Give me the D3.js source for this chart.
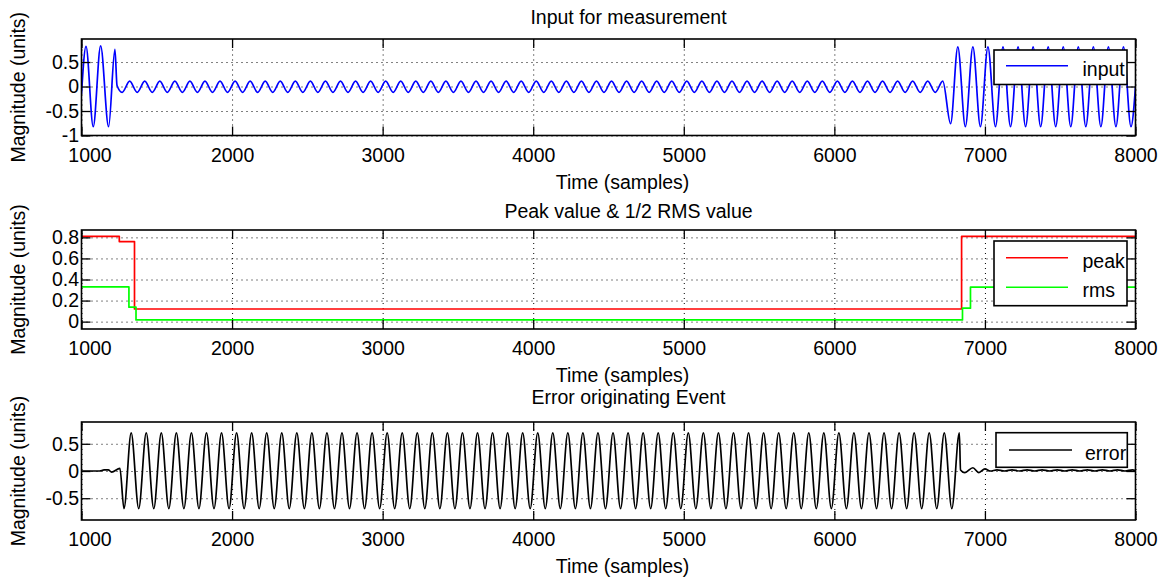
<!DOCTYPE html>
<html>
<head>
<meta charset="utf-8">
<script src="https://cdn.jsdelivr.net/npm/d3@7"></script>
<style>
  body { margin: 0; background: #fff; }
  svg { display: block; font-family: "Liberation Sans", Arial, Helvetica, sans-serif; }
</style>
</head>
<body>
<svg id="fig" width="1175" height="579"></svg>
<script>
// ---- data -------------------------------------------------------------
const xTicks = [1000, 2000, 3000, 4000, 5000, 6000, 7000, 8000];
const xLimits = [1000, 8000];

const inputYTicks = [-1, -0.5, 0, 0.5];
const inputYLimits = [-1, 0.97];
const levelYTicks = [0, 0.2, 0.4, 0.6, 0.8];
const levelYLimits = [-0.07, 0.87];
const errorYTicks = [-0.5, 0, 0.5];
const errorYLimits = [-0.9, 0.9];

// input signal: turning points [sample, value]
const inputPoints = [
  [1000,-0.15],[1030,0.82],[1078,-0.82],[1127,0.83],[1180,-0.82],[1222,0.76],[1236,0.02],[1270,-0.12],
  [1320,.11],[1370,-.12],[1420,.11],[1470,-.12],[1520,.11],[1570,-.12],[1620,.11],[1670,-.12],[1720,.11],[1770,-.12],[1820,.11],[1870,-.12],[1920,.11],[1970,-.12],
  [2020,.11],[2070,-.12],[2120,.11],[2170,-.12],[2220,.11],[2270,-.12],[2320,.11],[2370,-.12],[2420,.11],[2470,-.12],[2520,.11],[2570,-.12],[2620,.11],[2670,-.12],[2720,.11],[2770,-.12],[2820,.11],[2870,-.12],[2920,.11],[2970,-.12],
  [3020,.11],[3070,-.12],[3120,.11],[3170,-.12],[3220,.11],[3270,-.12],[3320,.11],[3370,-.12],[3420,.11],[3470,-.12],[3520,.11],[3570,-.12],[3620,.11],[3670,-.12],[3720,.11],[3770,-.12],[3820,.11],[3870,-.12],[3920,.11],[3970,-.12],
  [4020,.11],[4070,-.12],[4120,.11],[4170,-.12],[4220,.11],[4270,-.12],[4320,.11],[4370,-.12],[4420,.11],[4470,-.12],[4520,.11],[4570,-.12],[4620,.11],[4670,-.12],[4720,.11],[4770,-.12],[4820,.11],[4870,-.12],[4920,.11],[4970,-.12],
  [5020,.11],[5070,-.12],[5120,.11],[5170,-.12],[5220,.11],[5270,-.12],[5320,.11],[5370,-.12],[5420,.11],[5470,-.12],[5520,.11],[5570,-.12],[5620,.11],[5670,-.12],[5720,.11],[5770,-.12],[5820,.11],[5870,-.12],[5920,.11],[5970,-.12],
  [6020,.11],[6070,-.12],[6120,.11],[6170,-.12],[6220,.11],[6270,-.12],[6320,.11],[6370,-.12],[6420,.11],[6470,-.12],[6520,.11],[6570,-.12],[6620,.11],[6670,-.12],[6720,.11],
  [6772,-0.76],[6820,0.81],[6870,-0.82],[6920,0.81],[6970,-0.82],[7020,0.81],[7070,-0.82],[7120,0.81],[7170,-0.82],[7220,0.81],[7270,-0.82],[7320,0.81],[7370,-0.82],
  [7420,0.81],[7470,-0.82],[7520,0.81],[7570,-0.82],[7620,0.81],[7670,-0.82],[7720,0.81],[7770,-0.82],[7820,0.81],[7870,-0.82],[7920,0.81],[7970,-0.82],[8000,0.0]
];

// detector outputs: value held from each sample onward
const peakSteps = [[1000,0.81],[1251,0.76],[1352,0.12],[6845,0.81],[8000,0.81]];
const rmsSteps  = [[1000,0.33],[1315,0.137],[1362,0.016],[6851,0.128],[6904,0.328],[8000,0.328]];

// error signal: turning points [sample, value]
const errorPoints = [
  [1000,0],[1120,0],[1150,0.02],[1178,0.02],[1200,-0.02],[1255,0.05],[1282,-0.69],
  [1330,.7],[1380,-.69],[1430,.7],[1480,-.69],[1530,.7],[1580,-.69],[1630,.7],[1680,-.69],[1730,.7],[1780,-.69],[1830,.7],[1880,-.69],[1930,.7],[1980,-.69],
  [2030,.7],[2080,-.69],[2130,.7],[2180,-.69],[2230,.7],[2280,-.69],[2330,.7],[2380,-.69],[2430,.7],[2480,-.69],[2530,.7],[2580,-.69],[2630,.7],[2680,-.69],[2730,.7],[2780,-.69],[2830,.7],[2880,-.69],[2930,.7],[2980,-.69],
  [3030,.7],[3080,-.69],[3130,.7],[3180,-.69],[3230,.7],[3280,-.69],[3330,.7],[3380,-.69],[3430,.7],[3480,-.69],[3530,.7],[3580,-.69],[3630,.7],[3680,-.69],[3730,.7],[3780,-.69],[3830,.7],[3880,-.69],[3930,.7],[3980,-.69],
  [4030,.7],[4080,-.69],[4130,.7],[4180,-.69],[4230,.7],[4280,-.69],[4330,.7],[4380,-.69],[4430,.7],[4480,-.69],[4530,.7],[4580,-.69],[4630,.7],[4680,-.69],[4730,.7],[4780,-.69],[4830,.7],[4880,-.69],[4930,.7],[4980,-.69],
  [5030,.7],[5080,-.69],[5130,.7],[5180,-.69],[5230,.7],[5280,-.69],[5330,.7],[5380,-.69],[5430,.7],[5480,-.69],[5530,.7],[5580,-.69],[5630,.7],[5680,-.69],[5730,.7],[5780,-.69],[5830,.7],[5880,-.69],[5930,.7],[5980,-.69],
  [6030,.7],[6080,-.69],[6130,.7],[6180,-.69],[6230,.7],[6280,-.69],[6330,.7],[6380,-.69],[6430,.7],[6480,-.69],[6530,.7],[6580,-.69],[6630,.7],[6680,-.69],[6730,.7],[6780,-.69],[6830,.7],
  [6838,0.02],[6866,-0.03],[6920,0.06],[6960,-0.03],[7000,0.04],[7035,0],
  [7080,.02],[7130,0],[7180,.02],[7230,0],[7280,.02],[7330,0],[7380,.02],[7430,0],[7480,.02],[7530,0],[7580,.02],[7630,0],[7680,.02],[7730,0],[7780,.02],[7830,0],[7880,.02],[7930,0],[7980,.02],[8000,0.01]
];

// ---- layout -------------------------------------------------------------
const plotLeft = 81.5, plotRight = 1135.5;
const fontSize = 19.5;
const tickLen = 9;

const panels = [
  {
    top: 39, bottom: 135.5, yLimits: inputYLimits, yTicks: inputYTicks,
    title: "Input for measurement", titleBaseline: 24,
    series: [{ points: inputPoints, color: "#0000ff", label: "input", curve: d3.curveMonotoneX }],
    legend: { x0: 994, y0: 50, x1: 1127, y1: 84.5, lineX0: 1006, lineX1: 1068, textX: 1082.5, rows: [65.7] }
  },
  {
    top: 230, bottom: 329, yLimits: levelYLimits, yTicks: levelYTicks,
    title: "Peak value & 1/2 RMS value", titleBaseline: 218,
    series: [
      { points: peakSteps, color: "#ff0000", label: "peak", curve: d3.curveStepAfter },
      { points: rmsSteps, color: "#00ff00", label: "rms", curve: d3.curveStepAfter }
    ],
    legend: { x0: 994, y0: 241, x1: 1127, y1: 305.7, lineX0: 1006, lineX1: 1068, textX: 1082.5, rows: [257.7, 287.3] }
  },
  {
    top: 422, bottom: 520, yLimits: errorYLimits, yTicks: errorYTicks,
    title: "Error originating Event", titleBaseline: 404,
    series: [{ points: errorPoints, color: "#000000", label: "error", curve: d3.curveMonotoneX }],
    legend: { x0: 996, y0: 432.7, x1: 1127.3, y1: 467.3, lineX0: 1009, lineX1: 1072, textX: 1085, rows: [450] }
  }
];

const svg = d3.select("#fig");
const x = d3.scaleLinear().domain(xLimits).range([plotLeft, plotRight]);
const fmt = d => String(d);

function styleAxis(sel) {
  sel.attr("font-family", null).attr("font-size", fontSize);
  sel.select(".domain").remove();
  sel.selectAll(".tick line").attr("stroke", "#000").attr("stroke-width", 1.3);
  sel.selectAll(".tick text").attr("fill", "#000");
}

function styleGrid(sel) {
  sel.select(".domain").remove();
  sel.selectAll("text").remove();
  sel.selectAll(".tick line").attr("stroke", "#000").attr("stroke-width", 1)
    .attr("stroke-dasharray", "1,4");
}

panels.forEach((p, i) => {
  const h = p.bottom - p.top;
  const w = plotRight - plotLeft;
  const y = d3.scaleLinear().domain(p.yLimits).range([p.bottom, p.top]);
  const g = svg.append("g");

  g.append("rect").attr("x", plotLeft).attr("y", p.top).attr("width", w).attr("height", h).attr("fill", "#fff");

  // dotted grid
  g.append("g").attr("transform", `translate(0,${p.bottom})`)
    .call(d3.axisBottom(x).tickValues(xTicks).tickSize(-h).tickFormat(""))
    .call(styleGrid);
  g.append("g").attr("transform", `translate(${plotLeft},0)`)
    .call(d3.axisLeft(y).tickValues(p.yTicks).tickSize(-w).tickFormat(""))
    .call(styleGrid);

  // traces
  const clipId = "plot-clip-" + i;
  svg.append("clipPath").attr("id", clipId)
    .append("rect").attr("x", plotLeft).attr("y", p.top).attr("width", w).attr("height", h);
  const traces = g.append("g").attr("clip-path", `url(#${clipId})`);
  p.series.forEach(s => {
    const line = d3.line().x(d => x(d[0])).y(d => y(d[1])).curve(s.curve);
    traces.append("path").datum(s.points)
      .attr("d", line).attr("fill", "none")
      .attr("stroke", s.color).attr("stroke-width", 1.7).attr("stroke-linejoin", "round");
  });

  // inward ticks on all four sides
  const xb = g.append("g").attr("transform", `translate(0,${p.bottom})`)
    .call(d3.axisBottom(x).tickValues(xTicks).tickSize(-tickLen).tickPadding(12.5).tickFormat(fmt))
    .call(styleAxis);
  xb.selectAll(".tick text").filter(d => d === xLimits[0]).attr("dx", 8);
  g.append("g").attr("transform", `translate(0,${p.top})`)
    .call(d3.axisTop(x).tickValues(xTicks).tickSize(-tickLen).tickFormat(""))
    .call(styleAxis);
  g.append("g").attr("transform", `translate(${plotLeft},0)`)
    .call(d3.axisLeft(y).tickValues(p.yTicks).tickSize(-tickLen).tickPadding(2.5).tickFormat(fmt))
    .call(styleAxis);
  g.append("g").attr("transform", `translate(${plotRight},0)`)
    .call(d3.axisRight(y).tickValues(p.yTicks).tickSize(-tickLen).tickFormat(""))
    .call(styleAxis);

  // axes box
  g.append("rect").attr("x", plotLeft).attr("y", p.top).attr("width", w).attr("height", h)
    .attr("fill", "none").attr("stroke", "#000").attr("stroke-width", 1.6);

  // labels
  g.append("text").attr("x", (plotLeft + plotRight) / 2 + 20).attr("y", p.titleBaseline)
    .attr("font-size", fontSize).attr("text-anchor", "middle").text(p.title);
  g.append("text").attr("x", (plotLeft + plotRight) / 2 + 14).attr("y", p.bottom + 53)
    .attr("font-size", fontSize).attr("text-anchor", "middle").text("Time (samples)");
  g.append("text")
    .attr("transform", `translate(25,${(p.top + p.bottom) / 2}) rotate(-90)`)
    .attr("font-size", fontSize).attr("text-anchor", "middle").text("Magnitude (units)");

  // legend
  const L = p.legend;
  const lg = g.append("g");
  lg.append("rect").attr("x", L.x0).attr("y", L.y0).attr("width", L.x1 - L.x0).attr("height", L.y1 - L.y0)
    .attr("fill", "#fff").attr("stroke", "#000").attr("stroke-width", 1.6);
  p.series.forEach((s, k) => {
    lg.append("line").attr("x1", L.lineX0).attr("x2", L.lineX1)
      .attr("y1", L.rows[k]).attr("y2", L.rows[k])
      .attr("stroke", s.color).attr("stroke-width", 1.5);
    lg.append("text").attr("x", L.textX).attr("y", L.rows[k] + 10)
      .attr("font-size", fontSize).text(s.label);
  });
});
</script>
</body>
</html>
